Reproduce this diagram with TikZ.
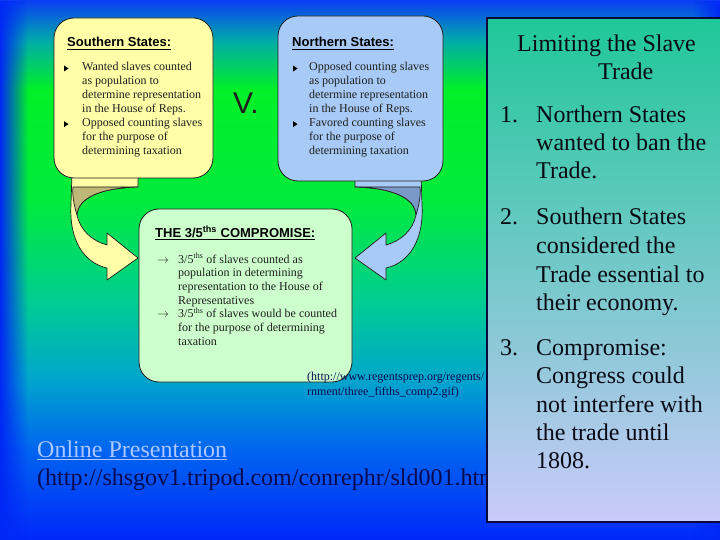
\documentclass[tikz,border=0pt]{standalone}
\usepackage{fontspec}
\setmainfont{Liberation Serif}
\newfontfamily\arialfont{Liberation Sans}
\usetikzlibrary{fadings}
\definecolor{bgA}{RGB}{10,60,245}
\definecolor{bgB}{RGB}{0,170,170}
\definecolor{bgC}{RGB}{0,240,40}
\definecolor{bgD}{RGB}{0,235,60}
\definecolor{bgE}{RGB}{0,205,145}
\definecolor{bgF}{RGB}{0,165,205}
\definecolor{bgG}{RGB}{0,100,240}
\definecolor{bgH}{RGB}{0,40,250}
\definecolor{edgeblue}{RGB}{0,40,245}
\definecolor{southfill}{RGB}{255,255,168}
\definecolor{northfill}{RGB}{168,202,246}
\definecolor{compfill}{RGB}{205,255,205}
\definecolor{southback}{RGB}{190,184,120}
\definecolor{northback}{RGB}{122,152,200}
\definecolor{boxline}{RGB}{30,30,30}
\definecolor{paneltop}{RGB}{30,200,152}
\definecolor{panelmid}{RGB}{140,200,215}
\definecolor{panelbot}{RGB}{202,202,250}
\definecolor{panelline}{RGB}{10,10,60}
\definecolor{navy}{RGB}{10,10,80}
\definecolor{linkblue}{RGB}{172,200,255}
\definecolor{paneltext}{RGB}{10,10,20}
\pgfdeclareverticalshading{bgshade}{100bp}{color(0bp)=(bgH); color(25bp)=(bgH); color(33.3bp)=(bgG); color(39.8bp)=(bgF); color(47.2bp)=(bgE); color(56.5bp)=(bgD); color(66.7bp)=(bgC); color(71.3bp)=(bgB); color(75bp)=(bgA); color(100bp)=(bgA)}
\tikzset{
  boxtxt/.style={font=\fontsize{12}{14}\selectfont, inner sep=0pt, anchor=base west, text=boxline},
  headtxt/.style={font=\arialfont\bfseries\fontsize{13}{15}\selectfont, inner sep=0pt, anchor=base west, text=black},
  paneltxt/.style={font=\fontsize{24}{28}\selectfont, inner sep=0pt, anchor=base west, text=paneltext},
  citetxt/.style={font=\fontsize{12}{14}\selectfont, inner sep=0pt, anchor=base west, text=navy},
  bigtxt/.style={font=\fontsize{24}{28}\selectfont, inner sep=0pt, anchor=base west},
  roundbox/.style={draw=boxline, line width=0.8pt, rounded corners=20pt},
  arrowline/.style={draw=boxline, line width=0.7pt, line join=round},
  uline/.style={line width=1.1pt},
  bul/.style={fill=black},
}
\begin{document}
\begin{tikzpicture}[x=1pt,y=-1pt]
\useasboundingbox (0,0) rectangle (720,540);
% background
\shade[shading=bgshade] (0,0) rectangle (720,540);
\fill[edgeblue, path fading=east] (0,0) rectangle (28,540);
\fill[edgeblue, path fading=west] (692,0) rectangle (720,540);
\node[bigtxt, text=linkblue] (online) at (37,457) {Online Presentation};
\draw[uline, linkblue] ([yshift=-2.5pt]online.base west) -- ([yshift=-2.5pt]online.base east);
\node[bigtxt, text=navy] (url) at (37,485) {(http://shsgov1.tripod.com/conrephr/sld001.htm)};
% left curved arrow
\path[arrowline, fill=southfill] (72,172) -- (138,172) -- (138,187)
  .. controls (100,188) and (78,198) .. (77,215)
  .. controls (80,230) and (92,241) .. (107,245)
  -- (107,233) -- (138,258) -- (107,280) -- (107,268)
  .. controls (84,263) and (69,240) .. (71,205) -- cycle;
\path[arrowline, fill=southback] (73,187) -- (138,187)
  .. controls (100,188) and (78,198) .. (77,215)
  .. controls (74,205) and (72,195) .. (73,187) -- cycle;
% right curved arrow (mirror)
\begin{scope}[xshift=493pt, xscale=-1]
\path[arrowline, fill=northfill] (72,172) -- (138,172) -- (138,187)
  .. controls (100,188) and (78,198) .. (77,215)
  .. controls (80,230) and (92,241) .. (107,245)
  -- (107,233) -- (138,258) -- (107,280) -- (107,268)
  .. controls (84,263) and (69,240) .. (71,205) -- cycle;
\path[arrowline, fill=northback] (73,187) -- (138,187)
  .. controls (100,188) and (78,198) .. (77,215)
  .. controls (74,205) and (72,195) .. (73,187) -- cycle;
\end{scope}
% boxes
\draw[roundbox, fill=southfill] (54,18) rectangle (213,178);
\draw[roundbox, fill=northfill] (278,16) rectangle (443,181);
\draw[roundbox, fill=compfill] (139,209) rectangle (352,382);
% citation texts (over the box corner, partly under the panel)
\node[citetxt] (cite1) at (307,380) {(http://www.regentsprep.org/regents/};
\node[citetxt] (cite2) at (307,395) {rnment/three\_fifths\_comp2.gif)};
% southern
\node[headtxt] (sh) at (67,47) {Southern States:};
\draw[uline] ([yshift=-2.3pt]sh.base west) -- ([yshift=-2.3pt]sh.base east);
\foreach \t [count=\i] in {Wanted slaves counted, as population to, determine representation, in the House of Reps., Opposed counting slaves, for the purpose of, determining taxation}
  \node[boxtxt] (s\i) at (82,{71+13.9*(\i-1)}) {\t};
\fill[bul] (64,65.5) -- (68.5,68.5) -- (64,71.5) -- cycle;
\fill[bul] (64,121.1) -- (68.5,124.1) -- (64,127.1) -- cycle;
% northern
\node[headtxt] (nh) at (292,47) {Northern States:};
\draw[uline] ([yshift=-2.3pt]nh.base west) -- ([yshift=-2.3pt]nh.base east);
\foreach \t [count=\i] in {Opposed counting slaves, as population to, determine representation, in the House of Reps., Favored counting slaves, for the purpose of, determining taxation}
  \node[boxtxt] (n\i) at (309,{71+13.9*(\i-1)}) {\t};
\fill[bul] (293,65.5) -- (297.5,68.5) -- (293,71.5) -- cycle;
\fill[bul] (293,121.1) -- (297.5,124.1) -- (293,127.1) -- cycle;
% V.
\node[font=\arialfont\fontsize{30}{32}\selectfont, inner sep=0pt, anchor=base west, text=boxline] (vs) at (233,114) {V.};
% compromise
\node[headtxt] (ch) at (155,237) {THE 3/5\textsuperscript{ths} COMPROMISE:};
\draw[uline] ([yshift=-2.3pt]ch.base west) -- ([yshift=-2.3pt]ch.base east);
\foreach \t [count=\i] in {{3/5\textsuperscript{ths} of slaves counted as}, population in determining, representation to the House of, Representatives, {3/5\textsuperscript{ths} of slaves would be counted}, for the purpose of determining, taxation}
  \node[boxtxt] (c\i) at (178,{263+13.7*(\i-1)}) {\t};
\node[boxtxt] (ca1) at (157,263) {$\rightarrow$};
\node[boxtxt] (ca2) at (157,317.8) {$\rightarrow$};
% right panel
\draw[draw=panelline, line width=1.2pt, top color=paneltop, middle color=panelmid, bottom color=panelbot] (487,18) rectangle (724,522);
\node[paneltxt] (t1) at (517,52) {Limiting the Slave};
\node[paneltxt] (t2) at (598,80) {Trade};
\node[paneltxt] (k1) at (500,123) {1.};
\node[paneltxt] (k2) at (500,225) {2.};
\node[paneltxt] (k3) at (500,355) {3.};
\node[paneltxt] (p1) at (536,123) {Northern States};
\node[paneltxt] (p2) at (536,151) {wanted to ban the};
\node[paneltxt] (p3) at (536,179) {Trade.};
\node[paneltxt] (p4) at (536,225) {Southern States};
\node[paneltxt] (p5) at (536,253) {considered the};
\node[paneltxt] (p6) at (536,282) {Trade essential to};
\node[paneltxt] (p7) at (536,310) {their economy.};
\node[paneltxt] (p8) at (536,355) {Compromise:};
\node[paneltxt] (p9) at (536,383) {Congress could};
\node[paneltxt] (p10) at (536,412) {not interfere with};
\node[paneltxt] (p11) at (536,440) {the trade until};
\node[paneltxt] (p12) at (536,468) {1808.};
\end{tikzpicture}
\end{document}
